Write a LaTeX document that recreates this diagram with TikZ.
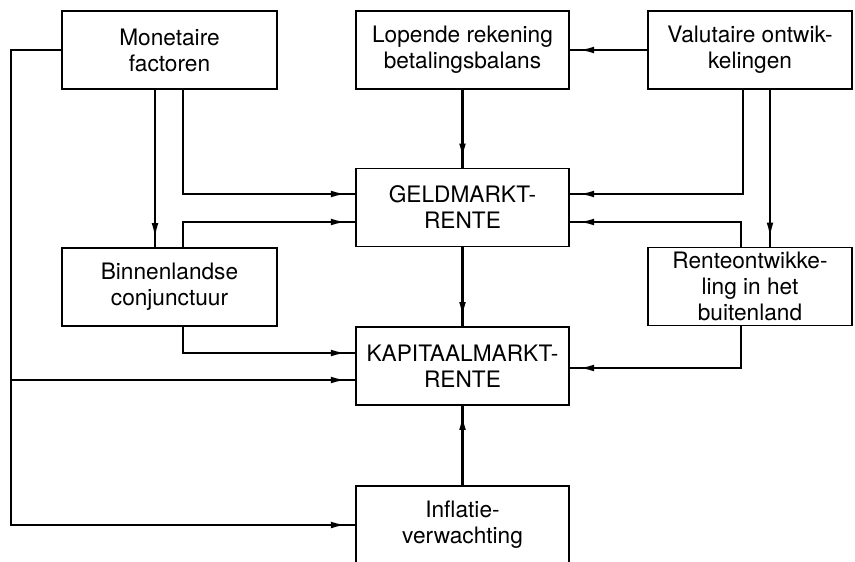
\documentclass[tikz,border=0pt]{standalone}
\usepackage{fontspec}
\setmainfont{TeX Gyre Heros}
\usetikzlibrary{arrows.meta,calc,decorations.markings}

\tikzset{
  blok/.style={draw, line width=1.4pt, minimum height=58.5pt, inner sep=0pt,
    align=center, font=\fontsize{17}{19.5}\selectfont},
  pijl/.style={line width=1.8pt, postaction={decorate},
    decoration={markings, mark=at position -6pt with {\arrow{Latex[length=12pt,width=5pt]}}}}
}

\begin{document}
\begin{tikzpicture}[x=0.75pt,y=-0.75pt]
\useasboundingbox (0,0) rectangle (855,561);

% Blokken
\node[blok, minimum width=161pt] (mon) at (169.5,50) {Monetaire\\factoren};
\node[blok, minimum width=160pt] (lop) at (462.5,50) {Lopende rekening\\betalingsbalans};
\node[blok, minimum width=153pt] (val) at (750,50) {Valutaire ontwik-\\kelingen};
\node[blok, minimum width=160pt] (geld) at (462.5,207.5) {GELDMARKT-\\RENTE};
\node[blok, minimum width=161pt] (bin) at (169.5,287) {Binnenlandse\\conjunctuur};
\node[blok, minimum width=153pt] (ren) at (750,286.5) {Renteontwikke-\\ling in het\\buitenland};
\node[blok, minimum width=160pt] (kap) at (462.5,366) {KAPITAALMARKT-\\RENTE};
\node[blok, minimum width=160pt] (inf) at (462.5,525) {Inflatie-\\verwachting};

% Verbindingen links
\coordinate (links) at ($(mon.west)+(-50,0)$);
\coordinate (kapa) at ($(kap.west)+(0,14)$);
\draw[pijl] (mon.west) -- (links) |- (inf.west);
\draw[pijl] (links |- kapa) -- (kapa);
\draw[pijl] ($(mon.south)+(-14.5,0)$) coordinate (m1) -- (m1 |- bin.north);
\draw[pijl] ($(mon.south)+(13.5,0)$) |- ($(geld.west)+(0,-13.5)$);
\draw[pijl] ($(bin.north)+(13.5,0)$) |- ($(geld.west)+(0,14.5)$);
\draw[pijl] ($(bin.south)+(13.5,0)$) |- ($(kap.west)+(0,-13)$);

% Midden
\draw[pijl] (lop) -- (geld);
\draw[pijl] (geld) -- (kap);
\draw[pijl] (inf) -- (kap);

% Verbindingen rechts
\draw[pijl] (val) -- (lop);
\draw[pijl] ($(val.south)+(-7,0)$) |- ($(geld.east)+(0,-13.5)$);
\draw[pijl] ($(val.south)+(20,0)$) coordinate (v2) -- (v2 |- ren.north);
\draw[pijl] ($(ren.north)+(-9,0)$) |- ($(geld.east)+(0,14.5)$);
\draw[pijl] ($(ren.south)+(-9,0)$) |- ($(kap.east)+(0,2)$);

\end{tikzpicture}
\end{document}
